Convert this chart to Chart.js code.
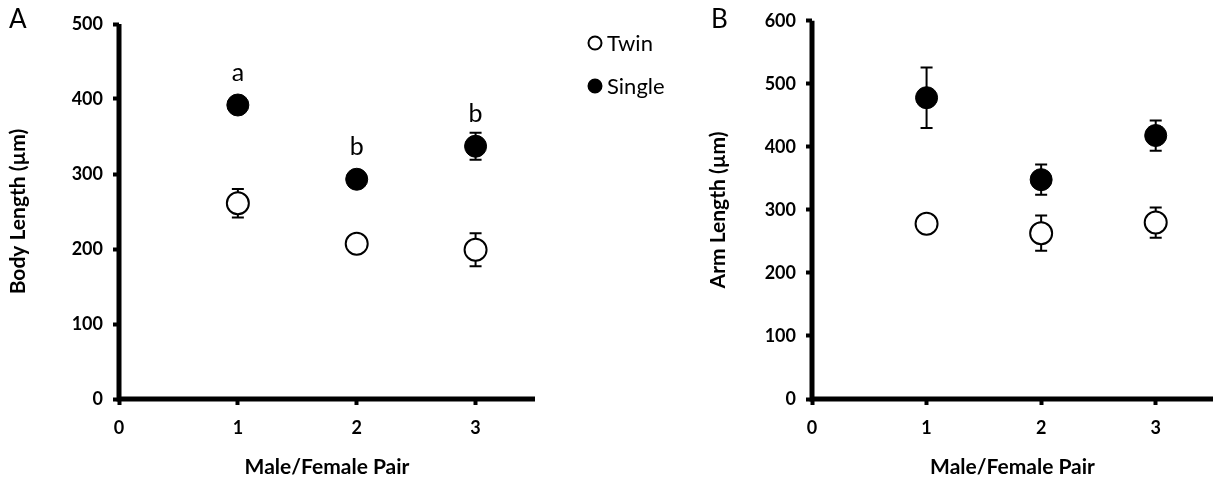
<!DOCTYPE html>
<html>
<head>
<meta charset="utf-8">
<script src="https://cdn.jsdelivr.net/npm/chart.js@4/dist/chart.umd.min.js"></script>
<style>
  html, body { margin: 0; padding: 0; background: #fff; }
  #wrap { position: relative; width: 1226px; height: 484px; overflow: hidden; }
  .panel { position: absolute; top: 0; height: 484px; }
  #boxA { left: 0; width: 700px; }
  #boxB { left: 700px; width: 526px; }
  .tag { position: absolute; top: 2px; font: 26px Lato, sans-serif; color: #000; }
</style>
</head>
<body>
<div id="wrap">
  <div class="panel" id="boxA"><canvas id="chart-a"></canvas></div>
  <div class="panel" id="boxB"><canvas id="chart-b"></canvas></div>
  <div class="tag" style="left:9px">A</div>
  <div class="tag" style="left:711px">B</div>
</div>
<script>
const pairs = [1, 2, 3];
const xTicks = [0, 1, 2, 3];

const bodyTwin = [261, 207, 199];
const bodyTwinErr = [19, 6, 22];
const bodySingle = [392, 293, 337];
const bodySingleErr = [8, 8, 18];
const sigLetters = ['a', 'b', 'b'];

const armTwin = [278, 263, 280];
const armTwinErr = [8, 28, 24];
const armSingle = [478, 348, 418];
const armSingleErr = [48, 24, 24];

const FONT = 'Lato, "Open Sans", sans-serif';

function points(vals) {
  return pairs.map((p, i) => ({ x: p, y: vals[i] }));
}

// error bars drawn under the markers
const errorBars = {
  id: 'errorBars',
  beforeDatasetsDraw(chart) {
    const { ctx, scales: { x, y } } = chart;
    ctx.save();
    ctx.strokeStyle = '#000';
    ctx.lineWidth = 2;
    chart.data.datasets.forEach(ds => {
      ds.data.forEach((pt, i) => {
        const e = ds.err[i];
        const px = x.getPixelForValue(pt.x);
        const top = y.getPixelForValue(pt.y + e);
        const bot = y.getPixelForValue(pt.y - e);
        ctx.beginPath();
        ctx.moveTo(px, top); ctx.lineTo(px, bot);
        ctx.moveTo(px - 6, top); ctx.lineTo(px + 6, top);
        ctx.moveTo(px - 6, bot); ctx.lineTo(px + 6, bot);
        ctx.stroke();
      });
    });
    ctx.restore();
  }
};

// heavy axis lines along the chart area edges
const heavyAxes = {
  id: 'heavyAxes',
  afterDraw(chart) {
    const { ctx, chartArea: a } = chart;
    ctx.save();
    ctx.strokeStyle = '#000';
    ctx.lineWidth = 5;
    ctx.lineCap = 'butt';
    ctx.beginPath();
    ctx.moveTo(a.left, a.top);
    ctx.lineTo(a.left, a.bottom);
    ctx.moveTo(a.left - 2.5, a.bottom);
    ctx.lineTo(a.right, a.bottom);
    ctx.stroke();
    ctx.restore();
  }
};

// significance letters above the Single markers (panel A)
const letters = {
  id: 'letters',
  afterDatasetsDraw(chart, args, opts) {
    if (!opts.labels) return;
    const { ctx, scales: { x, y } } = chart;
    const ds = chart.data.datasets[1];
    ctx.save();
    ctx.fillStyle = '#000';
    ctx.font = '25px ' + FONT;
    ctx.textAlign = 'center';
    ctx.textBaseline = 'middle';
    ds.data.forEach((pt, i) => {
      ctx.fillText(opts.labels[i], x.getPixelForValue(pt.x), y.getPixelForValue(pt.y) - 32);
    });
    ctx.restore();
  }
};

// legend to the right of panel A
const sideLegend = {
  id: 'sideLegend',
  afterDraw(chart, args, opts) {
    if (!opts.show) return;
    const { ctx } = chart;
    ctx.save();
    ctx.font = '22px ' + FONT;
    ctx.textBaseline = 'middle';
    chart.data.datasets.forEach((ds, i) => {
      const cy = 43 + i * 43;
      ctx.beginPath();
      ctx.arc(595, cy, 6.5, 0, Math.PI * 2);
      ctx.fillStyle = ds.pointBackgroundColor;
      ctx.fill();
      ctx.lineWidth = 2;
      ctx.strokeStyle = '#000';
      ctx.stroke();
      ctx.fillStyle = '#000';
      ctx.fillText(ds.label, 607, cy + 1);
    });
    ctx.restore();
  }
};

function makeChart(el, cfg) {
  return new Chart(el, {
    type: 'scatter',
    data: {
      datasets: [
        { label: 'Twin', data: points(cfg.twin), err: cfg.twinErr,
          pointRadius: 11, pointHoverRadius: 11, pointBorderWidth: 2,
          pointBackgroundColor: '#fff', pointBorderColor: '#000' },
        { label: 'Single', data: points(cfg.single), err: cfg.singleErr,
          pointRadius: 11, pointHoverRadius: 11, pointBorderWidth: 1,
          pointBackgroundColor: '#000', pointBorderColor: '#000' }
      ]
    },
    options: {
      responsive: false,
      animation: false,
      layout: { padding: cfg.padding },
      plugins: {
        legend: { display: false },
        tooltip: { enabled: false },
        letters: { labels: cfg.letters },
        sideLegend: { show: cfg.legend }
      },
      scales: {
        x: {
          type: 'linear', min: 0, max: 3.5,
          afterBuildTicks: s => { s.ticks = xTicks.map(v => ({ value: v })); },
          afterFit: s => { s.height = 85; },
          border: { display: false },
          grid: { display: true, drawOnChartArea: false, drawTicks: true, tickLength: 6, tickWidth: 4, tickColor: '#000' },
          ticks: { color: '#000', padding: 12, font: { family: FONT, size: 18, weight: 'bold' } },
          title: { display: true, text: 'Male/Female Pair', color: '#000', padding: { top: 8 },
                   font: { family: FONT, size: 21, weight: 'bold' } }
        },
        y: {
          min: 0, max: cfg.yMax,
          ticks: { stepSize: 100, color: '#000', padding: 10, font: { family: FONT, size: 18, weight: 'bold' } },
          afterFit: s => { s.width = cfg.yWidth; },
          border: { display: false },
          grid: { display: true, drawOnChartArea: false, drawTicks: true, tickLength: 6, tickWidth: 4, tickColor: '#000' },
          title: { display: true, text: cfg.yTitle, color: '#000', padding: { top: 6, bottom: 0 },
                   font: { family: FONT, size: 21, weight: 'bold' } }
        }
      }
    },
    plugins: [errorBars, heavyAxes, letters, sideLegend]
  });
}

const cA = document.getElementById('chart-a');
cA.width = 700; cA.height = 484;
makeChart(cA, {
  twin: bodyTwin, twinErr: bodyTwinErr, single: bodySingle, singleErr: bodySingleErr,
  yMax: 500, yTitle: 'Body Length (µm)', yWidth: 119, letters: sigLetters, legend: true,
  padding: { left: 0, right: 165, top: 24, bottom: 0 }
});

const cB = document.getElementById('chart-b');
cB.width = 526; cB.height = 484;
makeChart(cB, {
  twin: armTwin, twinErr: armTwinErr, single: armSingle, singleErr: armSingleErr,
  yMax: 600, yTitle: 'Arm Length (µm)', yWidth: 112, letters: null, legend: false,
  padding: { left: 0, right: 0, top: 19, bottom: 0 }
});
</script>
</body>
</html>
